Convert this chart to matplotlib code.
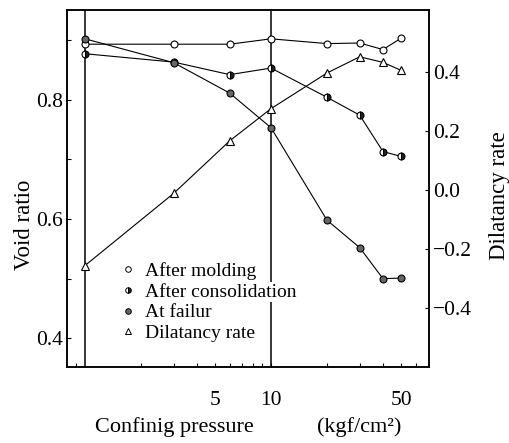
import matplotlib.pyplot as plt
from matplotlib.lines import Line2D

plt.rcParams['font.family'] = ['Liberation Serif', 'DejaVu Serif']

# Confining pressure (kgf/cm2)
pressure = [1, 3, 6, 10, 20, 30, 40, 50]

# Void ratio (left axis)
e_molding = [0.893, 0.893, 0.893, 0.902, 0.894, 0.895, 0.884, 0.903]
e_consol = [0.877, 0.863, 0.842, 0.853, 0.804, 0.774, 0.713, 0.705]
e_failure = [0.902, 0.862, 0.811, 0.753, 0.598, 0.552, 0.500, 0.501]

# Dilatancy rate (right axis)
dilatancy = [-0.256, -0.011, 0.167, 0.276, 0.397, 0.452, 0.433, 0.406]

legend_labels = ['After molding', 'After consolidation', 'At failur', 'Dilatancy rate']

fig = plt.figure(figsize=(5.09, 4.43), dpi=100)
ax = fig.add_axes([0.1316, 0.1716, 0.7112, 0.8054])
ax2 = ax.twinx()

ax.axvline(1, color='black', lw=1.1, zorder=1)
ax.axvline(10, color='black', lw=1.1, zorder=1)

line_kw = dict(color='black', lw=0.8, markeredgecolor='black', markeredgewidth=0.8)
ax.plot(pressure, e_molding, marker='o', ms=5, markerfacecolor='white', **line_kw)
ax.plot(pressure, e_consol, marker='o', ms=5, fillstyle='right',
        markerfacecolor='#222222', markerfacecoloralt='white', **line_kw)
ax.plot(pressure, e_failure, marker='o', ms=5, markerfacecolor='#666666', **line_kw)
ax2.plot(pressure, dilatancy, marker='^', ms=6, markerfacecolor='white', **line_kw)

ax.set_xscale('log')
ax.set_xlim(0.80, 70.7)
ax.set_ylim(0.352, 0.95)
ax2.set_ylim(-0.6, 0.61)

ax.set_xticks([5, 10, 50])
ax.set_xticklabels(['5', '10', '50'])
ax.set_xticks([0.9, 2, 3, 4, 6, 7, 8, 9, 20, 30, 40, 60, 70], minor=True)
ax.xaxis.set_minor_formatter(plt.NullFormatter())
ax.set_yticks([0.4, 0.6, 0.8])
ax.set_yticklabels(['0.4', '0.6', '0.8'])
ax.set_yticks([0.5, 0.7, 0.9], minor=True)
ax2.set_yticks([-0.4, -0.2, 0.0, 0.2, 0.4])
ax2.set_yticklabels(['\u22120.4', '\u22120.2', '0.0', '0.2', '0.4'])

ax.tick_params(axis='both', which='both', direction='in', length=3, width=0.8,
               labelsize=15.5, top=False)
ax.tick_params(axis='x', which='both', pad=17)
ax.tick_params(axis='y', which='both', pad=3, right=False)
ax2.tick_params(axis='y', direction='in', length=3, width=0.8, labelsize=15.5, pad=3)

for a in (ax, ax2):
    for s in a.spines.values():
        s.set_linewidth(1.1)

ax.set_ylabel('Void ratio', fontsize=16.5)
ax.yaxis.set_label_coords(-0.088, 0.399)
ax2.set_ylabel('Dilatancy rate', fontsize=16.5)
ax2.yaxis.set_label_coords(1.166, 0.479)

ax.set_xlabel('Confinig pressure', fontsize=16, ha='left')
ax.xaxis.set_label_coords(0.077, -0.14)
ax.text(0.691, -0.14, '(kgf/cm\u00b2)', transform=ax.transAxes, fontsize=16,
        ha='left', va='top')

handles = [
    Line2D([], [], ls='none', marker='o', ms=4, markerfacecolor='white',
           markeredgecolor='black', markeredgewidth=0.7),
    Line2D([], [], ls='none', marker='o', ms=4, fillstyle='right',
           markerfacecolor='#222222', markerfacecoloralt='white',
           markeredgecolor='black', markeredgewidth=0.7),
    Line2D([], [], ls='none', marker='o', ms=4, markerfacecolor='#666666',
           markeredgecolor='black', markeredgewidth=0.7),
    Line2D([], [], ls='none', marker='^', ms=4.5, markerfacecolor='white',
           markeredgecolor='black', markeredgewidth=0.7),
]
leg = ax2.legend(handles, legend_labels, loc='upper left', bbox_to_anchor=(0.135, 0.305),
                 frameon=False, fontsize=14, handlelength=0.8, handletextpad=0.5,
                 labelspacing=0.16, borderpad=0.2, borderaxespad=0)
leg.get_texts()[1].set_bbox(dict(facecolor='white', edgecolor='none', pad=1))

fig.savefig('out.png', dpi=100)
